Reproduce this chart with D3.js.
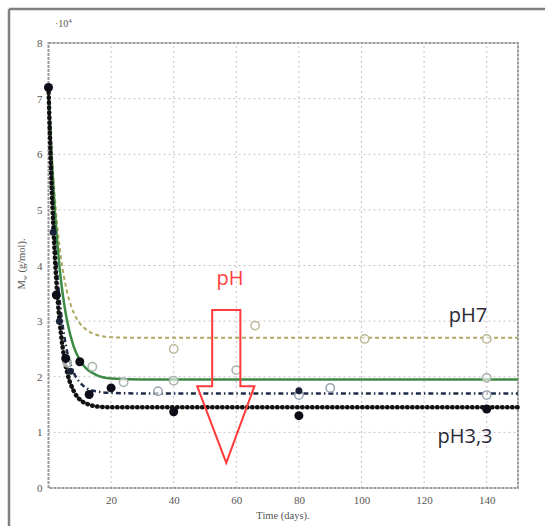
<!DOCTYPE html>
<html><head><meta charset="utf-8">
<script src="https://cdn.jsdelivr.net/npm/d3@7"></script>
<style>html,body{margin:0;padding:0;background:#fff;}svg{display:block;}</style>
</head><body>
<script>
// ---- data ----
const curveTimes = [0,1,2,3,4,5,6,8,10,12,15,20,30,150];
const curvePH7    = [7.2,6.08,5.24,4.61,4.13,3.78,3.51,3.16,2.96,2.85,2.76,2.71,2.70,2.70];
const curveGreen  = [7.2,5.96,5.01,4.29,3.73,3.31,2.99,2.55,2.30,2.15,2.04,1.97,1.95,1.95];
const curveDashDot= [7.2,5.64,4.52,3.72,3.15,2.74,2.44,2.08,1.90,1.80,1.74,1.71,1.70,1.70];
const curveDotted = [7.2,5.42,4.19,3.34,2.76,2.35,2.07,1.75,1.59,1.52,1.47,1.45,1.45,1.45];

const filledPts = [[0,7.2],[2.5,3.47],[5.5,2.33],[10,2.27],[13,1.68],[20,1.8],[40,1.37],[80,1.3],[140,1.42]];
const filledSmall = [[80,1.75],[1.5,4.6],[3.5,3.0],[7,2.1]];
const openPH7   = [[40,2.5],[66,2.92],[101,2.68],[140,2.68]];
const openGreen = [[6,2.25],[14,2.18],[24,1.9],[40,1.93],[60,2.12],[140,1.98]];
const openDash  = [[35,1.74],[90,1.8],[80,1.67],[140,1.67]];

const xTicks = [20,40,60,80,100,120,140];
const yTicks = [0,1,2,3,4,5,6,7,8];
const arrowPts = [[52.3,3.2],[61.3,3.2],[61.3,1.83],[65.8,1.83],[56.8,0.45],[47.5,1.83],[52.3,1.83]];

// ---- chart ----
const W=545,H=526;
const svg=d3.select("body").append("svg").attr("width",W).attr("height",H);
const x=d3.scaleLinear().domain([0,150]).range([48.5,518]);
const y=d3.scaleLinear().domain([0,8]).range([488,43]);

// outer frame (top and left)
svg.append("line").attr("x1",9).attr("x2",W).attr("y1",9).attr("y2",9).attr("stroke","#808080").attr("stroke-width",2.5);
svg.append("line").attr("x1",9).attr("x2",9).attr("y1",9).attr("y2",H).attr("stroke","#808080").attr("stroke-width",2.5);

// grid
const g=svg.append("g");
g.selectAll(".gx").data(xTicks).enter().append("line")
 .attr("x1",d=>x(d)).attr("x2",d=>x(d)).attr("y1",y(0)).attr("y2",y(8))
 .attr("stroke","#c9bfcc").attr("stroke-width",1).attr("stroke-dasharray","2,3");
g.selectAll(".gy").data(yTicks.filter(d=>d>0&&d<8)).enter().append("line")
 .attr("x1",x(0)).attr("x2",x(150)).attr("y1",d=>y(d)).attr("y2",d=>y(d))
 .attr("stroke","#c9bfcc").attr("stroke-width",1).attr("stroke-dasharray","2,3");

// axes via d3
const xAxis=d3.axisBottom(x).tickValues(xTicks).tickSize(0).tickPadding(8);
const yAxis=d3.axisLeft(y).tickValues(yTicks).tickSize(0).tickPadding(6).tickFormat(d3.format("d"));
const gx=svg.append("g").attr("transform",`translate(0,${y(0)})`).call(xAxis);
const gy=svg.append("g").attr("transform",`translate(${x(0)},0)`).call(yAxis);
[gx,gy].forEach(a=>{a.select(".domain").remove();
 a.selectAll("text").attr("font-family","Liberation Serif, serif").attr("font-size",11).attr("fill","#555");});

// plot box
svg.append("rect").attr("x",x(0)).attr("y",y(8)).attr("width",x(150)-x(0)).attr("height",y(0)-y(8))
 .attr("fill","none").attr("stroke","#9a9a9a").attr("stroke-width",2).attr("stroke-dasharray","3,1");

// curves
const line=d3.line().x((d,i)=>x(curveTimes[i])).y(d=>y(d)).curve(d3.curveMonotoneX);
svg.append("path").attr("d",line(curvePH7)).attr("fill","none").attr("stroke","#b0a860").attr("stroke-width",2).attr("stroke-dasharray","4,3");
svg.append("path").attr("d",line(curveGreen)).attr("fill","none").attr("stroke","#3d8a45").attr("stroke-width",2.5);
svg.append("path").attr("d",line(curveDashDot)).attr("fill","none").attr("stroke","#1e2c48").attr("stroke-width",2.5).attr("stroke-dasharray","5,3,1.5,3");
svg.append("path").attr("d",line(curveDotted)).attr("fill","none").attr("stroke","#111").attr("stroke-width",4.5).attr("stroke-linecap","round").attr("stroke-dasharray","0.5,4.5");

// points
function openPts(data,col){
 svg.append("g").selectAll("circle").data(data).enter().append("circle")
  .attr("cx",d=>x(d[0])).attr("cy",d=>y(d[1])).attr("r",4.2)
  .attr("fill","#fff").attr("fill-opacity",0.6).attr("stroke",col).attr("stroke-width",1.5);
}
openPts(openPH7,"#bdb898");
openPts(openGreen,"#a7b3a7");
openPts(openDash,"#9aa6b4");
svg.append("g").selectAll("circle").data(filledPts).enter().append("circle")
 .attr("cx",d=>x(d[0])).attr("cy",d=>y(d[1])).attr("r",4.5).attr("fill","#0d0d18");
svg.append("g").selectAll("circle").data(filledSmall).enter().append("circle")
 .attr("cx",d=>x(d[0])).attr("cy",d=>y(d[1])).attr("r",3.5).attr("fill","#1a2238");

// axis titles
svg.append("text").attr("x",55).attr("y",27).attr("font-family","Liberation Serif, serif").attr("font-size",10).attr("fill","#555")
 .text("·10").append("tspan").attr("dy",-4).attr("font-size",7).text("4");
svg.append("text").attr("x",283).attr("y",519).attr("text-anchor","middle").attr("font-family","Liberation Serif, serif").attr("font-size",10.5).attr("fill","#555").text("Time (days).");
const yl=svg.append("text").attr("transform","translate(25,264) rotate(-90)").attr("text-anchor","middle")
 .attr("font-family","Liberation Serif, serif").attr("font-size",10.5).attr("fill","#555");
yl.append("tspan").text("M");
yl.append("tspan").attr("font-size",7).attr("dy",2).text("w");
yl.append("tspan").attr("dy",-2).text(" (g/mol).");

// annotations
svg.append("polygon").attr("points",arrowPts.map(p=>[x(p[0]),y(p[1])].join(",")).join(" "))
 .attr("fill","none").attr("stroke","#ff3b3b").attr("stroke-width",2).attr("stroke-linejoin","miter");
svg.append("text").attr("x",230).attr("y",285).attr("text-anchor","middle").attr("font-family","Open Sans, sans-serif").attr("font-size",20).attr("fill","#ff4040").text("pH");
svg.append("text").attr("x",468).attr("y",322).attr("text-anchor","middle").attr("font-family","Open Sans, sans-serif").attr("font-size",20).attr("fill","#2a2a35").text("pH7");
svg.append("text").attr("x",465).attr("y",443).attr("text-anchor","middle").attr("font-family","Open Sans, sans-serif").attr("font-size",20).attr("fill","#2a2a35").text("pH3,3");
</script>
</body></html>
